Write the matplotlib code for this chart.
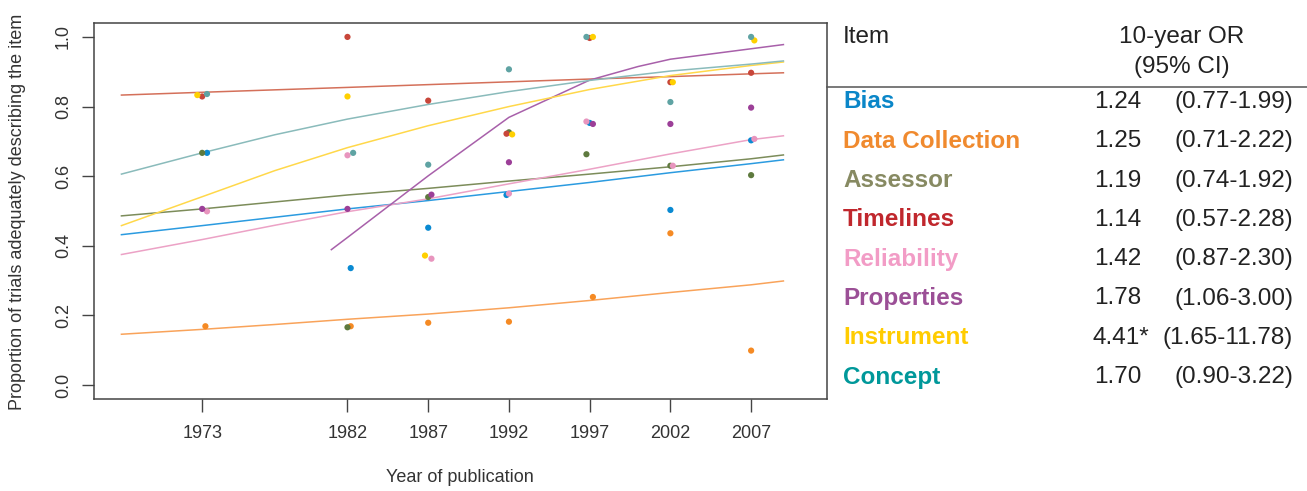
import numpy as np
import matplotlib.pyplot as plt

plt.rcParams['font.family'] = ['Liberation Sans', 'DejaVu Sans']

# === DATA ===
years = [1973, 1982, 1987, 1992, 1997, 2002, 2007]
items = ['Bias', 'Data Collection', 'Assessor', 'Timelines',
         'Reliability', 'Properties', 'Instrument', 'Concept']
odds_ratio = ['1.24', '1.25', '1.19', '1.14', '1.42', '1.78', '4.41*', '1.70']
conf_int = ['(0.77-1.99)', '(0.71-2.22)', '(0.74-1.92)', '(0.57-2.28)',
            '(0.87-2.30)', '(1.06-3.00)', '(1.65-11.78)', '(0.90-3.22)']

bias_pts = [0.667, 0.336, 0.452, 0.546, 0.753, 0.503, 0.703]
datacoll_pts = [0.169, 0.169, 0.179, 0.182, 0.253, 0.436, 0.099]
assessor_pts = [0.667, 0.166, 0.540, 0.726, 0.663, 0.630, 0.603]
timelines_pts = [0.829, 1.000, 0.817, 0.722, 0.997, 0.870, 0.897]
reliab_pts = [0.499, 0.660, 0.363, 0.550, 0.757, 0.630, 0.707]
props_pts = [0.506, 0.506, 0.547, 0.640, 0.750, 0.750, 0.797]
instr_pts = [0.833, 0.829, 0.372, 0.720, 1.000, 0.870, 0.990]
concept_pts = [0.836, 0.667, 0.633, 0.907, 1.000, 0.813, 1.000]

# small horizontal jitter of the dots (years)
bias_jit = [0.3, 0.2, 0.0, -0.15, 0.0, 0.0, 0.0]
datacoll_jit = [0.2, 0.2, 0.0, 0.0, 0.2, 0.0, 0.0]
assessor_jit = [0.0, 0.0, 0.0, 0.0, -0.2, 0.0, 0.0]
timelines_jit = [0.0, 0.0, 0.0, -0.15, 0.0, 0.0, 0.0]
reliab_jit = [0.3, 0.0, 0.2, 0.0, -0.2, 0.15, 0.2]
props_jit = [0.0, 0.0, 0.2, 0.0, 0.2, 0.0, 0.0]
instr_jit = [-0.3, 0.0, -0.2, 0.2, 0.2, 0.15, 0.2]
concept_jit = [0.3, 0.35, 0.0, 0.0, -0.2, 0.0, 0.0]

# fitted trend curves
fit_x = [1968, 1973, 1977.5, 1982, 1987, 1992, 1997, 2002, 2007, 2009]
bias_fit = [0.432, 0.458, 0.482, 0.506, 0.530, 0.556, 0.582, 0.610, 0.636, 0.647]
datacoll_fit = [0.146, 0.160, 0.174, 0.189, 0.204, 0.222, 0.243, 0.266, 0.288, 0.299]
assessor_fit = [0.486, 0.506, 0.526, 0.546, 0.565, 0.586, 0.606, 0.627, 0.650, 0.661]
timelines_fit = [0.833, 0.841, 0.848, 0.855, 0.863, 0.871, 0.879, 0.886, 0.894, 0.897]
reliab_fit = [0.375, 0.418, 0.459, 0.498, 0.535, 0.578, 0.620, 0.664, 0.705, 0.716]
instr_fit = [0.458, 0.541, 0.616, 0.682, 0.745, 0.800, 0.849, 0.889, 0.918, 0.928]
concept_fit = [0.606, 0.667, 0.719, 0.764, 0.806, 0.843, 0.875, 0.902, 0.922, 0.931]
props_x = [1981, 1982, 1987, 1992, 1997, 2000, 2002, 2007, 2009]
props_fit = [0.389, 0.424, 0.601, 0.769, 0.876, 0.915, 0.936, 0.966, 0.978]

pt_colors = ['#0a8ad2', '#f58a24', '#5e7a3e', '#c8463a',
             '#e895be', '#9c3f98', '#ffd000', '#5fa3a3']
line_colors = ['#2b9be0', '#f9a35a', '#7c8c5a', '#d4705a',
               '#eca2c6', '#a860aa', '#ffd84a', '#8abbbb']
text_colors = ['#0a86c8', '#f08a2e', '#878a62', '#c0272d',
               '#f29cc6', '#9b4f96', '#ffcc00', '#00989a']

pts = [bias_pts, datacoll_pts, assessor_pts, timelines_pts,
       reliab_pts, props_pts, instr_pts, concept_pts]
jits = [bias_jit, datacoll_jit, assessor_jit, timelines_jit,
        reliab_jit, props_jit, instr_jit, concept_jit]
fits = [(fit_x, bias_fit), (fit_x, datacoll_fit), (fit_x, assessor_fit),
        (fit_x, timelines_fit), (fit_x, reliab_fit), (props_x, props_fit),
        (fit_x, instr_fit), (fit_x, concept_fit)]


def fx(px):
    return px / 1307


def fy(py):
    return 1 - py / 491


fig = plt.figure(figsize=(13.07, 4.91), dpi=100)
ax = fig.add_axes([fx(94), fy(399), (827 - 94) / 1307, (399 - 23) / 491])

for i in range(len(items)):
    xs, ys = fits[i]
    ax.plot(xs, ys, color=line_colors[i], lw=1.1, zorder=2)
for i in range(len(items)):
    xs = np.array(years) + np.array(jits[i])
    ax.scatter(xs, pts[i], s=20, color=pt_colors[i], edgecolors='none', zorder=3)

ax.set_xlim(1966.3, 2011.7)
ax.set_ylim(-0.04, 1.04)
ax.set_xticks(years)
ax.set_xticklabels([str(y) for y in years], fontsize=13, color='#333333')
ax.set_yticks([0.0, 0.2, 0.4, 0.6, 0.8, 1.0])
ax.set_yticklabels(['0.0', '0.2', '0.4', '0.6', '0.8', '1.0'],
                   fontsize=13, color='#333333', rotation=90, va='center')
ax.tick_params(direction='out', length=9, width=1, color='#444444')
ax.tick_params(axis='x', pad=10)
ax.tick_params(axis='y', pad=7)
for s in ax.spines.values():
    s.set_color('#444444')
    s.set_linewidth(1.1)

fig.text(fx(460), fy(478), 'Year of publication', fontsize=13,
         color='#333333', ha='center', va='center')
fig.text(fx(18), fy(212), 'Proportion of trials adequately describing the item',
         fontsize=13, color='#333333', ha='center', va='center', rotation=90)

# === TABLE ===
fig.text(fx(843), fy(37), 'Item', fontsize=17.5, color='#222222', va='center')
fig.text(fx(1182), fy(37), '10-year OR', fontsize=17.5, color='#222222',
         va='center', ha='center')
fig.text(fx(1182), fy(67), '(95% CI)', fontsize=17.5, color='#222222',
         va='center', ha='center')
fig.add_artist(plt.Line2D([fx(827), 1.0], [fy(87), fy(87)],
                          color='#555555', lw=1.1))

row0 = 102
row_gap = 39.3
for i, name in enumerate(items):
    y = fy(row0 + i * row_gap)
    fig.text(fx(843), y, name, fontsize=17.5, fontweight='bold',
             color=text_colors[i], va='center')
    or_x = fx(1149) if '*' in odds_ratio[i] else fx(1141)
    fig.text(or_x, y, odds_ratio[i], fontsize=17.5, color='#222222',
             va='center', ha='right')
    fig.text(fx(1293), y, conf_int[i], fontsize=17.5, color='#222222',
             va='center', ha='right')

fig.savefig('out.png', dpi=100, facecolor='white')
